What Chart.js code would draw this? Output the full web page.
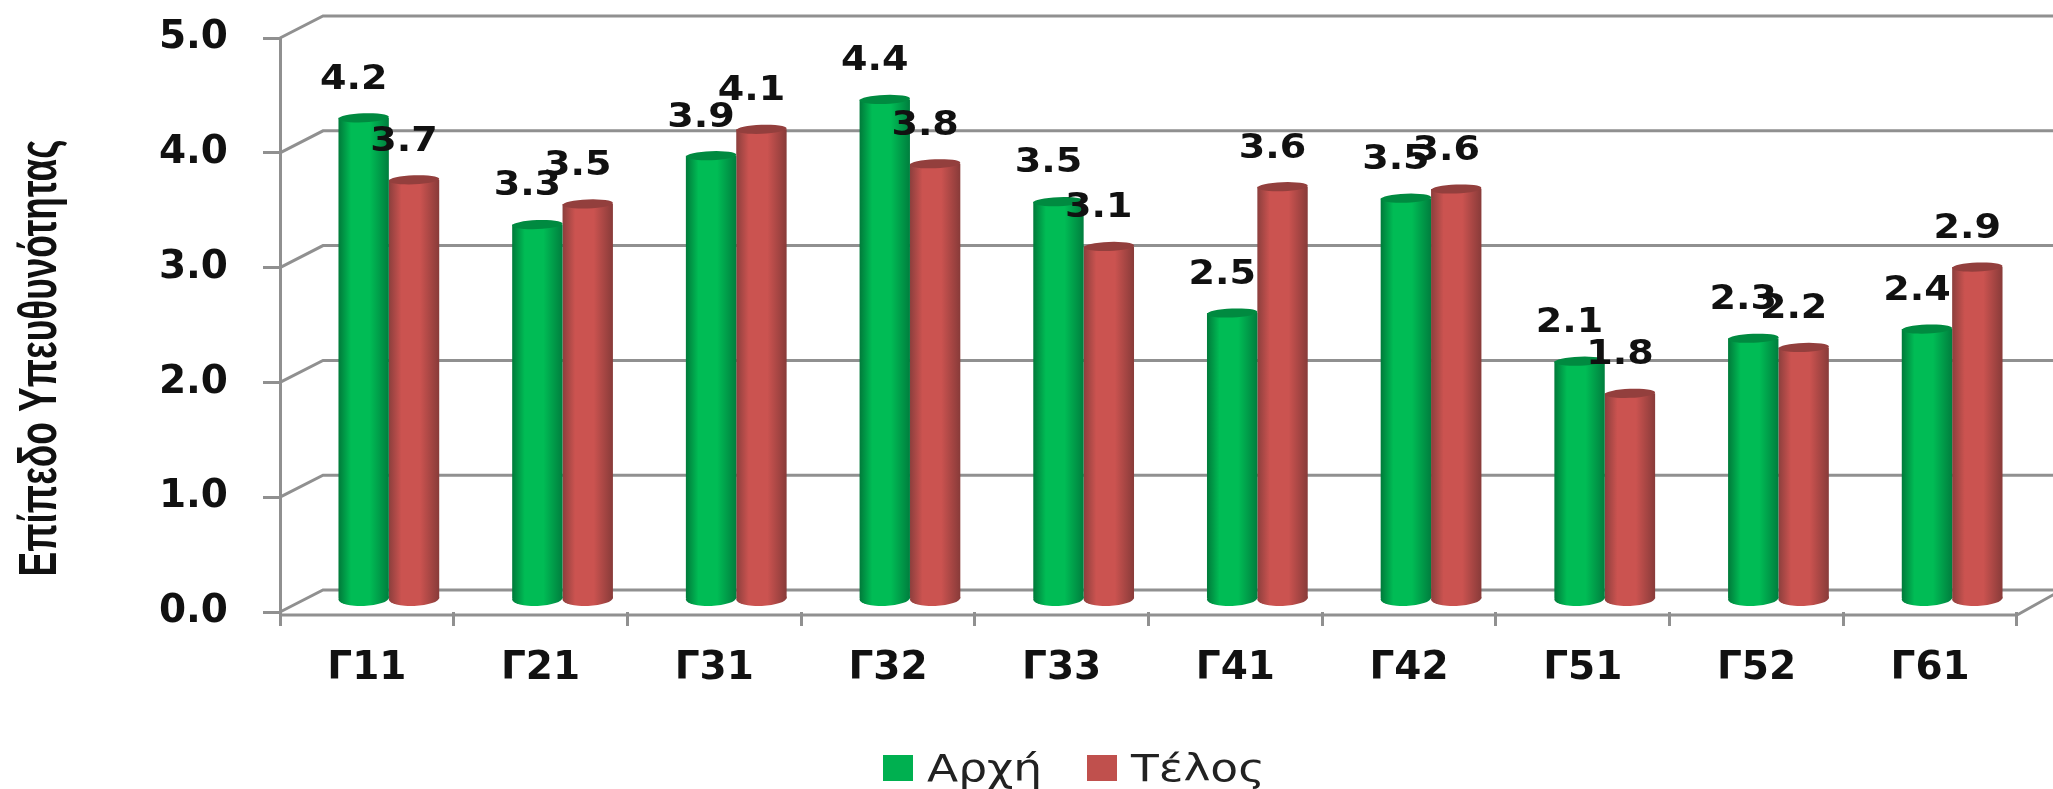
<!DOCTYPE html>
<html>
<head>
<meta charset="utf-8">
<style>
html,body{margin:0;padding:0;background:#fff;overflow:hidden}
#wrap{width:2053px;height:789px;position:relative}
canvas{display:block;filter:blur(0.6px)}
</style>
<script src="https://cdn.jsdelivr.net/npm/chart.js@4"></script>
</head>
<body>
<div id="wrap"><canvas id="c" width="2053" height="789"></canvas></div>
<script>
const categories = ['Γ11','Γ21','Γ31','Γ32','Γ33','Γ41','Γ42','Γ51','Γ52','Γ61'];
const seriesStart = [4.2,3.27,3.87,4.36,3.47,2.5,3.5,2.08,2.28,2.36];
const seriesEnd = [3.66,3.45,4.1,3.8,3.08,3.6,3.58,1.8,2.2,2.9];
const seriesNames = ['Αρχή','Τέλος'];
const yTicks = [0,1,2,3,4,5];
const axisTitle = 'Επίπεδο Υπευθυνότητας';

const GRID = '#909090';
const CAT_PCT = 0.58;
const DEPTH = {x:43, y:-22};
const BAR_SHIFT = {x:22, y:-12};
const FONT = "'DejaVu Sans'";

const PALETTE = [
  {flat:'#00B050', edge1:'#007A3A', mid:'#00BC55', edge2:'#007E3E', cap:'#008A40'},
  {flat:'#C0504D', edge1:'#8C3F3D', mid:'#CB5350', edge2:'#883B39', cap:'#933F3D'}
];

function barFill(context){
  const p = PALETTE[context.datasetIndex];
  if (context.type !== 'data' || typeof context.dataIndex !== 'number') return p.flat;
  const xs = context.chart.scales.x;
  if (!xs) return p.flat;
  const step = xs.getPixelForValue(1) - xs.getPixelForValue(0);
  const w = step * CAT_PCT / 2;
  const cx = xs.getPixelForValue(context.dataIndex);
  if (!isFinite(w) || !isFinite(cx)) return p.flat;
  const x0 = context.datasetIndex === 0 ? cx - w : cx;
  const g = context.chart.ctx.createLinearGradient(x0, 0, x0 + w, 0);
  g.addColorStop(0, p.edge1);
  g.addColorStop(0.25, p.mid);
  g.addColorStop(0.62, p.mid);
  g.addColorStop(1, p.edge2);
  return g;
}

const scene = {
  id:'scene',
  beforeDatasetsDraw(chart){
    const {ctx, chartArea:a, scales:{y}} = chart;
    ctx.save();
    ctx.strokeStyle = GRID; ctx.lineWidth = 3;
    ctx.beginPath();
    yTicks.forEach(v=>{
      const py = y.getPixelForValue(v);
      ctx.moveTo(a.left, py);
      ctx.lineTo(a.left + DEPTH.x, py + DEPTH.y);
      ctx.lineTo(2053, py + DEPTH.y);
    });
    const y0 = y.getPixelForValue(0) + 3;
    ctx.moveTo(a.left - 1, y0);
    ctx.lineTo(a.right, y0);
    ctx.lineTo(a.right + DEPTH.x, y0 + DEPTH.y - 2);
    ctx.stroke();
    ctx.restore();
    ctx.save();
    ctx.translate(BAR_SHIFT.x, BAR_SHIFT.y);
  },
  beforeDatasetDraw(chart, args){
    const {ctx} = chart;
    args.meta.data.forEach(b=>{
      ctx.save();
      ctx.fillStyle = b.options.backgroundColor;
      ctx.beginPath();
      ctx.ellipse(b.x, b.base, b.width/2, 7.5, -0.04, 0, Math.PI*2);
      ctx.fill();
      ctx.restore();
    });
  },
  afterDatasetDraw(chart, args){
    const {ctx} = chart;
    const p = PALETTE[args.index];
    args.meta.data.forEach(b=>{
      ctx.save();
      ctx.fillStyle = p.cap;
      ctx.beginPath();
      ctx.ellipse(b.x, b.y, b.width/2, 4.5, -0.04, 0, Math.PI*2);
      ctx.fill();
      ctx.restore();
    });
  },
  afterDatasetsDraw(chart){
    const {ctx} = chart;
    ctx.save();
    ctx.fillStyle = '#111';
    ctx.font = 'bold 34px ' + FONT;
    ctx.textAlign = 'center';
    ctx.textBaseline = 'middle';
    chart.data.datasets.forEach((d,i)=>{
      chart.getDatasetMeta(i).data.forEach((b,j)=>{
        ctx.save();
        ctx.translate(b.x - 10, b.y - 38);
        ctx.scale(1.12, 1);
        ctx.fillText(d.data[j].toFixed(1), 0, 0);
        ctx.restore();
      });
    });
    ctx.restore();
    ctx.restore();

    ctx.save();
    ctx.fillStyle = '#111';
    ctx.font = 'bold 37px "Liberation Sans"';
    ctx.textAlign = 'center';
    ctx.textBaseline = 'alphabetic';
    ctx.translate(56, 358);
    ctx.rotate(-Math.PI/2);
    ctx.scale(1, 1.43);
    ctx.fillText(axisTitle, 0, 0);
    ctx.restore();

    // legend
    const swatchX = [883, 1087];
    ctx.save();
    ctx.textAlign = 'left';
    ctx.textBaseline = 'alphabetic';
    ctx.font = '37px ' + FONT;
    seriesNames.forEach((name,i)=>{
      ctx.fillStyle = PALETTE[i].flat;
      ctx.fillRect(swatchX[i], 755, 30, 26);
      ctx.save();
      ctx.translate(swatchX[i] + 44, 781);
      ctx.scale(1.23, 1);
      ctx.fillStyle = '#222';
      ctx.fillText(name, 0, 0);
      ctx.restore();
    });
    ctx.restore();
  }
};

new Chart(document.getElementById('c'), {
  type:'bar',
  data:{
    labels:categories,
    datasets:[
      {label:seriesNames[0], data:seriesStart, backgroundColor:barFill, categoryPercentage:CAT_PCT, barPercentage:1, clip:false},
      {label:seriesNames[1], data:seriesEnd, backgroundColor:barFill, categoryPercentage:CAT_PCT, barPercentage:1, clip:false}
    ]
  },
  options:{
    responsive:false,
    animation:false,
    devicePixelRatio:1,
    layout:{padding:{left:0,right:36,top:38,bottom:0}},
    scales:{
      x:{
        afterFit(s){s.height = 177; s.paddingLeft = 0; s.paddingRight = 0;},
        border:{display:false},
        grid:{drawOnChartArea:false, color:GRID, lineWidth:3, tickLength:14},
        ticks:{color:'#111', padding:19, maxRotation:0, autoSkip:false, font:{family:FONT, weight:'bold', size:39}}
      },
      y:{
        min:0, max:5,
        afterFit(s){s.width = 280; s.paddingTop = 0; s.paddingBottom = 0;},
        afterBuildTicks(s){s.ticks = yTicks.map(v=>({value:v}));},
        border:{display:true, color:GRID, width:3},
        grid:{drawOnChartArea:false, color:GRID, lineWidth:3, tickLength:17},
        ticks:{color:'#111', padding:35, callback:v=>v.toFixed(1), font:{family:FONT, weight:'bold', size:39}}
      }
    },
    plugins:{
      title:{display:false},
      tooltip:{enabled:false},
      legend:{display:false}
    }
  },
  plugins:[scene]
});
</script>
</body>
</html>
